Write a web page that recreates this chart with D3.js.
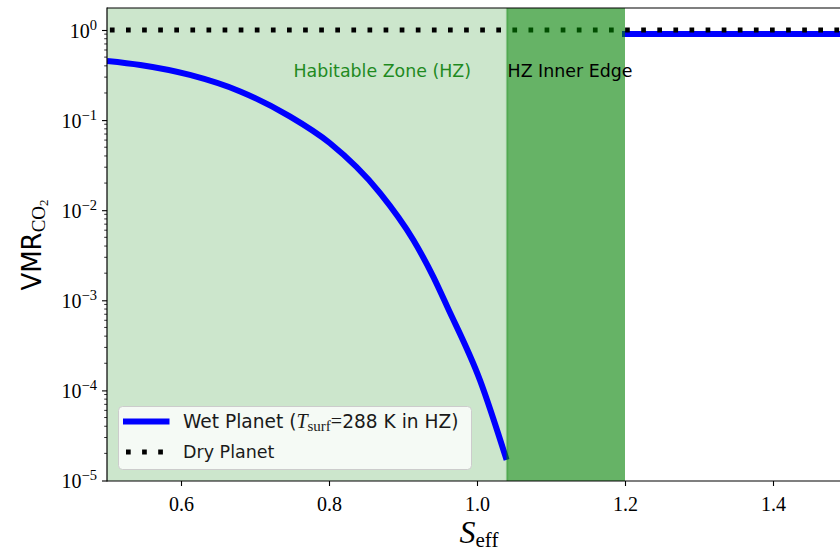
<!DOCTYPE html>
<html><head><meta charset="utf-8">
<script src="https://cdn.jsdelivr.net/npm/d3@7"></script>
<style>body{margin:0;background:#fff}svg{display:block}</style>
</head><body>
<svg id="c" width="840" height="550"></svg>
<script>
// ---- data ----
const wetS   = [0.500, 0.545, 0.612, 0.680, 0.747, 0.801, 0.869, 0.914, 0.941, 0.960, 1.004, 1.040];
const wetVMR = [0.453, 0.409, 0.317, 0.208, 0.110, 0.0557, 0.0155, 0.00467, 0.00182, 0.000843, 0.000130, 0.0000169];
const wetOutS   = [1.20, 1.50];
const wetOutVMR = [0.90, 0.90];
const dryS   = [0.50, 1.50];
const dryVMR = [1.0, 1.0];
const hzSpan    = [0.50, 1.04];
const innerSpan = [1.04, 1.20];
const xTicks = [0.6, 0.8, 1.0, 1.2, 1.4];
const yTickExp = [0, -1, -2, -3, -4, -5];

const svg = d3.select("#c");
const L = 107, T = 8, B = 481, W = 740;
const x = d3.scaleLinear().domain([0.5, 1.5]).range([L, L + W]);
const y = d3.scaleLog().domain([1e-5, 1]).range([480.5, 30]);

const defs = svg.append("defs");
defs.append("clipPath").attr("id", "pc").append("rect")
  .attr("x", L).attr("y", T).attr("width", W).attr("height", B - T);

const g = svg.append("g").attr("clip-path", "url(#pc)");
// light HZ span
g.append("rect").attr("x", x(hzSpan[0])).attr("y", T)
  .attr("width", x(hzSpan[1]) - x(hzSpan[0])).attr("height", B - T)
  .attr("fill", "#008000").attr("fill-opacity", 0.2);

const line = d3.line().x((d) => x(d[0])).y((d) => y(d[1])).curve(d3.curveMonotoneX);
// wet planet
g.append("path").datum(wetS.map((s, i) => [s, wetVMR[i]])).attr("d", line)
  .attr("fill", "none").attr("stroke", "#0000ff").attr("stroke-width", 6).attr("stroke-linecap", "butt");
g.append("path").datum(wetOutS.map((s, i) => [s, wetOutVMR[i]])).attr("d", line)
  .attr("fill", "none").attr("stroke", "#0000ff").attr("stroke-width", 6).attr("stroke-linecap", "square");
// dry planet
g.append("path").datum(dryS.map((s, i) => [s, dryVMR[i]])).attr("d", d3.line().x((d) => x(d[0])).y((d) => y(d[1])))
  .attr("fill", "none").attr("stroke", "#000").attr("stroke-width", 5)
  .attr("stroke-dasharray", "4.7 11.4").attr("stroke-dashoffset", 13.2);
// inner edge span (on top)
g.append("rect").attr("x", x(innerSpan[0])).attr("y", T)
  .attr("width", x(innerSpan[1]) - x(innerSpan[0])).attr("height", B - T)
  .attr("fill", "#008000").attr("fill-opacity", 0.6);
g.append("line").attr("x1", x(innerSpan[0]) + 0.5).attr("x2", x(innerSpan[0]) + 0.5).attr("y1", T).attr("y2", B)
  .attr("stroke", "#008000").attr("stroke-opacity", 0.2).attr("stroke-width", 2.5);

// region labels
g.append("text").attr("x", x(0.872)).attr("y", 77).attr("text-anchor", "middle")
  .attr("font-family", "DejaVu Sans").attr("font-size", 17.4).attr("fill", "#1f8a1f")
  .text("Habitable Zone (HZ)");
svg.append("text").attr("x", x(1.04) + 1).attr("y", 77)
  .attr("font-family", "DejaVu Sans").attr("font-size", 17.4).attr("fill", "#000")
  .text("HZ Inner Edge");

// spines
svg.append("line").attr("x1", L).attr("x2", 840).attr("y1", T).attr("y2", T).attr("stroke", "#000").attr("stroke-width", 1.2);
svg.append("line").attr("x1", L).attr("x2", L).attr("y1", T - 0.6).attr("y2", B + 0.6).attr("stroke", "#000").attr("stroke-width", 1.2);
svg.append("line").attr("x1", L).attr("x2", 840).attr("y1", B).attr("y2", B).attr("stroke", "#000").attr("stroke-width", 1.2);

// x axis
const xa = svg.append("g").attr("transform", `translate(0,${B})`)
  .call(d3.axisBottom(x).tickValues(xTicks).tickFormat(d3.format(".1f")).tickSize(5).tickPadding(0));
xa.select(".domain").remove();
xa.selectAll("line").attr("stroke-width", 1.1);
xa.selectAll("text").attr("font-family", "Liberation Serif").attr("font-size", 20).attr("fill", "#000")
  .attr("dy", null).attr("y", 30);

// y axis
const ya = svg.append("g").attr("transform", `translate(${L},0)`);
ya.call(d3.axisLeft(y).tickValues(yTickExp.map((e) => Math.pow(10, e))).tickFormat("").tickSize(5));
ya.select(".domain").remove();
ya.selectAll("line").attr("stroke-width", 1.1);
const minor = [];
for (let e = -5; e <= 0; e++) for (let m = 2; m <= 9; m++) { const v = m * Math.pow(10, e); if (y(v) >= T) minor.push(v); }
ya.selectAll(".minor").data(minor).enter().append("line").attr("class", "minor")
  .attr("x1", 0).attr("x2", -2.8).attr("y1", (d) => y(d)).attr("y2", (d) => y(d))
  .attr("stroke", "#000").attr("stroke-width", 0.8);
yTickExp.forEach((e) => {
  const t = ya.append("text").attr("x", -10).attr("y", y(Math.pow(10, e)) + 7.5).attr("text-anchor", "end")
    .attr("font-family", "Liberation Serif").attr("fill", "#000");
  t.append("tspan").attr("font-size", 20).text("10");
  t.append("tspan").attr("font-size", 14.5).attr("dy", -8).text(e === 0 ? "0" : "\u2212" + (-e));
});

// axis labels
const xl = svg.append("text").attr("x", 479).attr("y", 542.5).attr("text-anchor", "middle").attr("fill", "#000");
xl.append("tspan").attr("font-family", "Liberation Serif").attr("font-style", "italic").attr("font-size", 32).text("S");
xl.append("tspan").attr("font-family", "Liberation Serif").attr("font-size", 21).attr("dy", 4).text("eff");

const yl = svg.append("text").attr("transform", "translate(41,245) rotate(-90)").attr("text-anchor", "middle").attr("fill", "#000");
yl.append("tspan").attr("font-family", "DejaVu Sans").attr("font-size", 26).text("VMR");
yl.append("tspan").attr("font-family", "Liberation Serif").attr("font-size", 19).attr("dy", 4).text("CO");
yl.append("tspan").attr("font-family", "Liberation Serif").attr("font-size", 13).attr("dy", 3).text("2");

// legend
const lg = svg.append("g");
lg.append("rect").attr("x", 118.5).attr("y", 406.5).attr("width", 353).attr("height", 63).attr("rx", 4)
  .attr("fill", "#ffffff").attr("fill-opacity", 0.8).attr("stroke", "#cccccc").attr("stroke-width", 1);
lg.append("line").attr("x1", 123).attr("x2", 169.5).attr("y1", 421.5).attr("y2", 421.5)
  .attr("stroke", "#0000ff").attr("stroke-width", 6);
lg.append("line").attr("x1", 126).attr("x2", 164).attr("y1", 452).attr("y2", 452)
  .attr("stroke", "#000").attr("stroke-width", 5).attr("stroke-dasharray", "4.7 11.4");
const l1 = lg.append("text").attr("x", 183).attr("y", 428).attr("fill", "#1a1a1a").attr("font-size", 18.6);
l1.append("tspan").attr("font-family", "DejaVu Sans").text("Wet Planet (");
l1.append("tspan").attr("font-family", "Liberation Serif").attr("font-style", "italic").attr("font-size", 20).text("T");
l1.append("tspan").attr("font-family", "Liberation Serif").attr("font-size", 15).attr("dy", 3).text("surf");
l1.append("tspan").attr("font-family", "Liberation Serif").attr("font-size", 20).attr("dy", -3).text("=");
l1.append("tspan").attr("font-family", "DejaVu Sans").text("288 K in HZ)");
lg.append("text").attr("x", 183).attr("y", 458).attr("fill", "#1a1a1a").attr("font-size", 17.5)
  .attr("font-family", "DejaVu Sans").text("Dry Planet");
</script>
</body></html>
